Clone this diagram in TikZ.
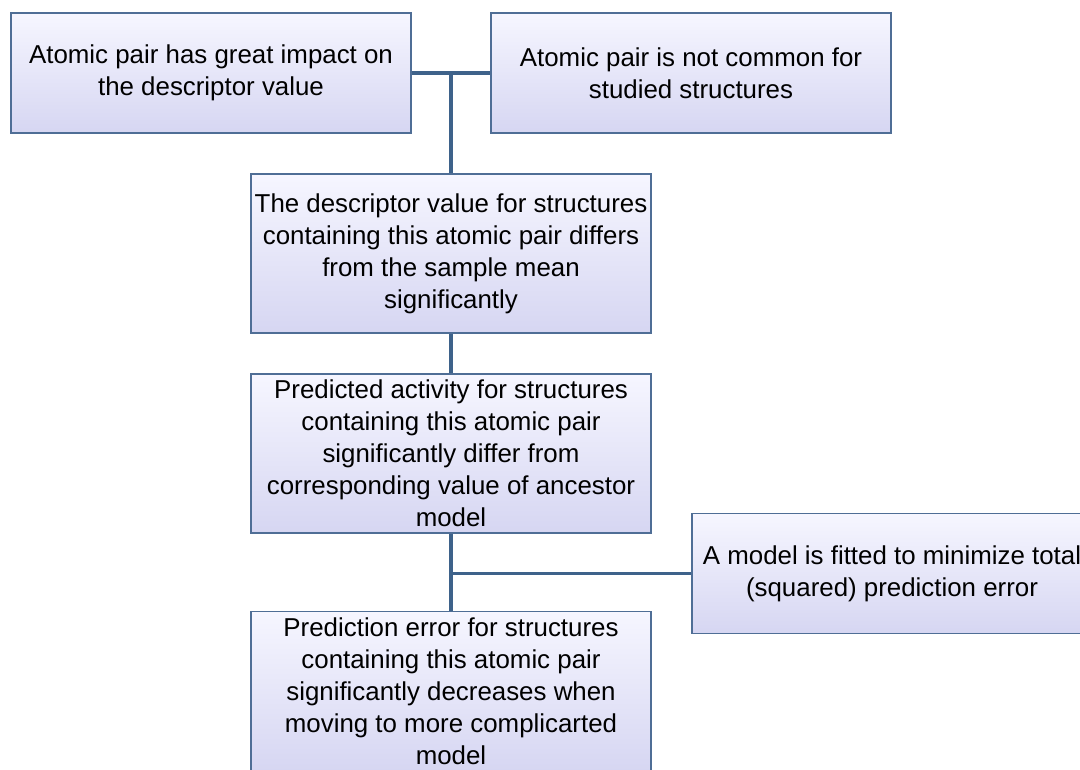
\documentclass[tikz,border=0pt]{standalone}
\usepackage{fontspec}
\setmainfont{Liberation Sans}
\usetikzlibrary{positioning}
\definecolor{boxedge}{RGB}{79,110,150}
\definecolor{linkblue}{RGB}{62,98,138}
\definecolor{boxtop}{RGB}{246,246,255}
\definecolor{boxlow}{RGB}{214,214,242}

\begin{document}
\begin{tikzpicture}[
    x=0.025cm, y=-0.025cm,
    box/.style={draw=boxedge, line width=0.9pt, rectangle, minimum width=10cm, minimum height=3cm, align=center, top color=boxtop, bottom color=boxlow, inner sep=0pt, font=\fontsize{18.4}{22.8}\selectfont},
    tallbox/.style={box, minimum height=3.975cm},
    link/.style={draw=linkblue, line width=2.6pt},
]
\useasboundingbox (0,0) rectangle (1080,770);
\clip (0,0) rectangle (1080,770);

% === TOP ROW ===
\node[box] (impact) at (211, 73) {Atomic pair has great impact on\\the descriptor value};
\node[box] (rare) at (691, 73) {Atomic pair is not common for\\studied structures};

% === MIDDLE COLUMN ===
\node[tallbox] (differs) at (451, 253.5) {The descriptor value for structures\\containing this atomic pair differs\\from the sample mean\\significantly};
\node[tallbox] (predicted) at (451, 453.5) {Predicted activity for structures\\containing this atomic pair\\significantly differ from\\corresponding value of ancestor\\model};
\node[tallbox] (error) at (451, 691) {Prediction error for structures\\containing this atomic pair\\significantly decreases when\\moving to more complicarted\\model};

% Side condition
\node[box] (fitted) at (892, 573.5) {A model is fitted to minimize total\\(squared) prediction error};

% Connections
\draw[link] (impact.east) -- (rare.west);
\draw[link] (differs.north |- impact.east) -- (differs.north);
\draw[link] (differs.south) -- (predicted.north);
\draw[link] (predicted.south) -- (error.north);
\draw[link] (fitted.west) -- (fitted.west -| predicted.south);

\end{tikzpicture}
\end{document}
